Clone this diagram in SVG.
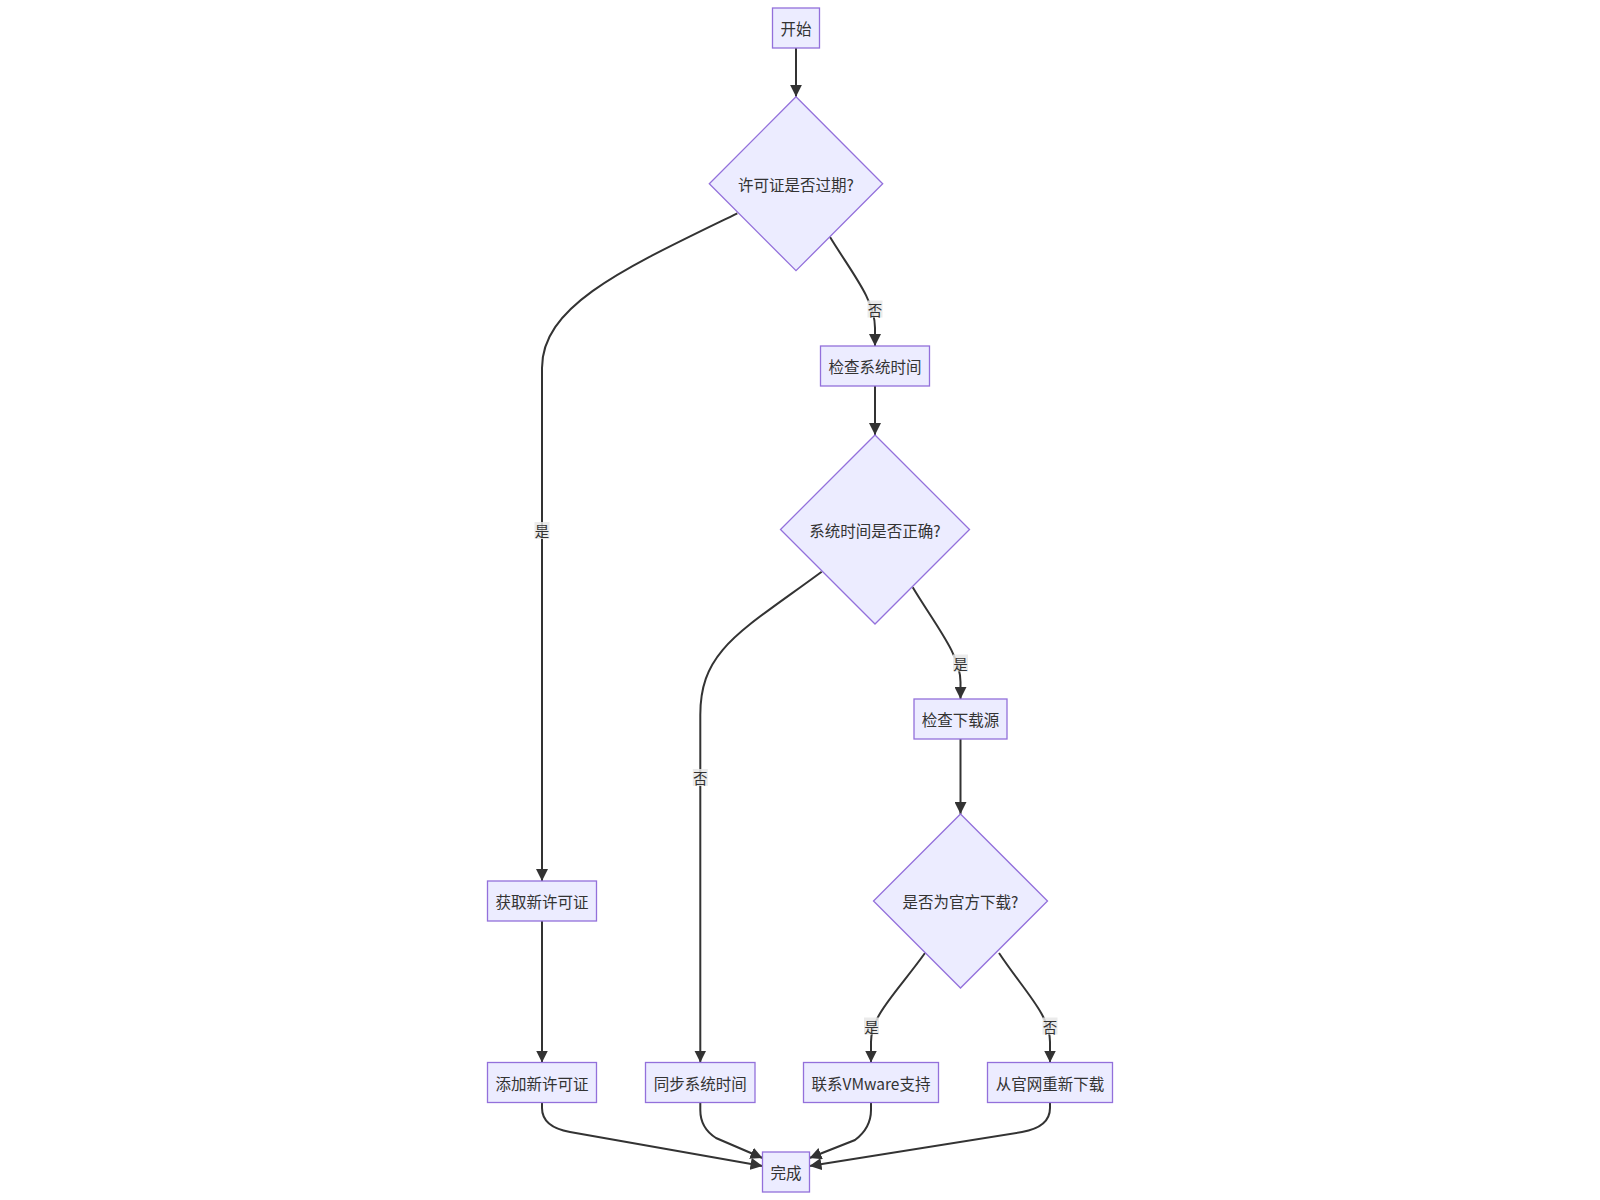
<svg xmlns="http://www.w3.org/2000/svg" width="1600" height="1200" viewBox="0 0 1600 1200">
<style>
.node rect, .node polygon { fill: #ECECFF; stroke: #9370DB; stroke-width: 1.3; }
.node text { font-family: "Noto Sans CJK SC", "Liberation Sans", sans-serif; font-size: 15.5px; fill: #333; text-anchor: middle; dominant-baseline: central; }
.edge { fill: none; stroke: #333; stroke-width: 2; }
.lbl rect { fill: #e8e8e8; opacity: 0.85; }
.lbl text { font-family: "Noto Sans CJK SC", "Liberation Sans", sans-serif; font-size: 14.5px; fill: #333; text-anchor: middle; dominant-baseline: central; }
</style>
<defs>
<marker id="arr" viewBox="0 0 10 10" refX="10" refY="5" markerUnits="userSpaceOnUse" markerWidth="12" markerHeight="12" orient="auto">
<path d="M0,0 L10,5 L0,10 z" fill="#333"/>
</marker>
</defs>
<rect width="1600" height="1200" fill="#ffffff"/>
<g id="edges">
<path class="edge" marker-end="url(#arr)" d="M796,48 L796,96.7"/>
<path class="edge" marker-end="url(#arr)" d="M830,237 C852,273 875,300 875,328 L875,346"/>
<path class="edge" marker-end="url(#arr)" d="M875,386 L875,435"/>
<path class="edge" marker-end="url(#arr)" d="M912.7,587.3 C936,626 960.5,655 960.5,682 L960.5,699"/>
<path class="edge" marker-end="url(#arr)" d="M960.5,739 L960.5,814"/>
<path class="edge" marker-end="url(#arr)" d="M737.3,213.3 C625,268 542,305 542,368 L542,881"/>
<path class="edge" marker-end="url(#arr)" d="M542,921 L542,1062.5"/>
<path class="edge" marker-end="url(#arr)" d="M821.7,571.7 C740,632 700.3,650 700.3,715 L700.3,1062.5"/>
<path class="edge" marker-end="url(#arr)" d="M925,953 C897,992 871,1015 871,1042 L871,1062.5"/>
<path class="edge" marker-end="url(#arr)" d="M999,953 C1025,992 1050,1015 1050,1042 L1050,1062.5"/>
<path class="edge" marker-end="url(#arr)" d="M542,1102.5 L542,1108 Q542,1127 570,1132 L762.5,1166"/>
<path class="edge" marker-end="url(#arr)" d="M700.3,1102.5 L700.3,1110 Q700.3,1128 716,1138 L762.5,1158"/>
<path class="edge" marker-end="url(#arr)" d="M871,1102.5 L871,1110 Q871,1128 855,1140 L809.5,1158"/>
<path class="edge" marker-end="url(#arr)" d="M1050,1102.5 L1050,1108 Q1050,1127 1022,1132 L809.5,1166"/>
</g>
<g id="edge-labels">
<g class="lbl"><rect x="867.5" y="300.5" width="15" height="17"/><text x="875" y="309">否</text></g>
<g class="lbl"><rect x="953" y="654.5" width="15" height="17"/><text x="960.5" y="663">是</text></g>
<g class="lbl"><rect x="534.5" y="522" width="15" height="17"/><text x="542" y="530.5">是</text></g>
<g class="lbl"><rect x="692.8" y="769" width="15" height="17"/><text x="700.3" y="777.5">否</text></g>
<g class="lbl"><rect x="864" y="1017.5" width="15" height="17"/><text x="871.5" y="1026">是</text></g>
<g class="lbl"><rect x="1042.5" y="1017.5" width="15" height="17"/><text x="1050" y="1026">否</text></g>
</g>
<g id="n-start" class="node"><rect x="772.5" y="8" width="47" height="40"/><text x="796" y="28">开始</text></g>
<g id="n-d1" class="node"><polygon points="796,96.7 882.7,183.7 796,270.7 709.3,183.7"/><text x="796" y="183.7">许可证是否过期?</text></g>
<g id="n-checktime" class="node"><rect x="820.5" y="346" width="109" height="40"/><text x="875" y="366">检查系统时间</text></g>
<g id="n-d2" class="node"><polygon points="875,435 969.5,529.5 875,624 780.5,529.5"/><text x="875" y="529.5">系统时间是否正确?</text></g>
<g id="n-checksrc" class="node"><rect x="914" y="699" width="93" height="40"/><text x="960.5" y="719">检查下载源</text></g>
<g id="n-d3" class="node"><polygon points="960.5,814 1047.5,901 960.5,988 873.5,901"/><text x="960.5" y="901">是否为官方下载?</text></g>
<g id="n-getlic" class="node"><rect x="487.5" y="881" width="109" height="40"/><text x="542" y="901">获取新许可证</text></g>
<g id="n-addlic" class="node"><rect x="487.5" y="1062.5" width="109" height="40"/><text x="542" y="1082.5">添加新许可证</text></g>
<g id="n-sync" class="node"><rect x="645.5" y="1062.5" width="109.5" height="40"/><text x="700.3" y="1082.5">同步系统时间</text></g>
<g id="n-support" class="node"><rect x="803.5" y="1062.5" width="135" height="40"/><text x="871" y="1082.5">联系VMware支持</text></g>
<g id="n-redownload" class="node"><rect x="987.5" y="1062.5" width="125" height="40"/><text x="1050" y="1082.5">从官网重新下载</text></g>
<g id="n-done" class="node"><rect x="762.5" y="1152" width="47" height="40"/><text x="786" y="1172">完成</text></g>
</svg>
